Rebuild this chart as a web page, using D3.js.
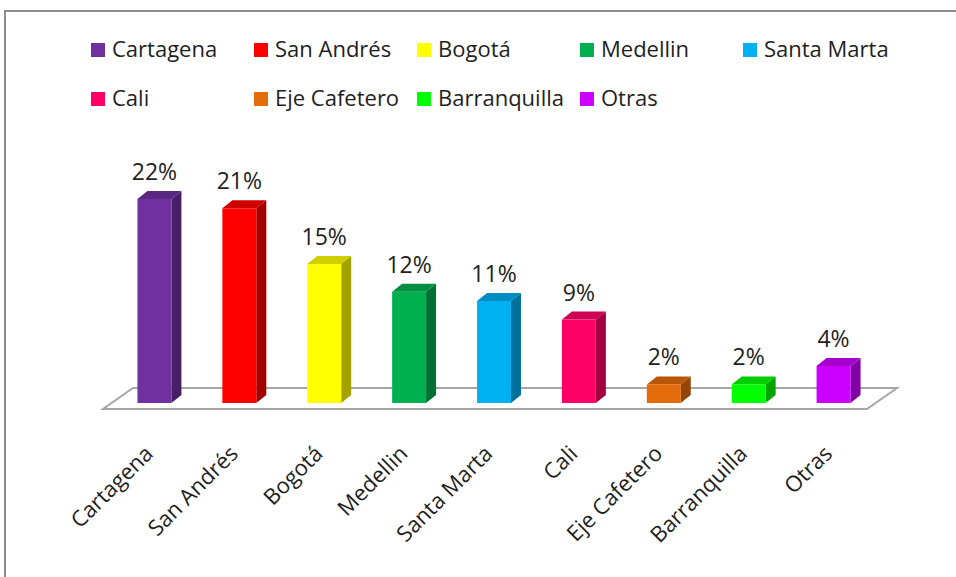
<!DOCTYPE html>
<html>
<head>
<meta charset="utf-8">
<script src="https://cdn.jsdelivr.net/npm/d3@7"></script>
<style>
  body { margin: 0; background: #fff; }
  svg { display: block; font-family: "Open Sans", sans-serif; }
</style>
</head>
<body>
<div id="chart"></div>
<script>
// data
const ciudades = ["Cartagena", "San Andrés", "Bogotá", "Medellin", "Santa Marta",
                  "Cali", "Eje Cafetero", "Barranquilla", "Otras"];
const porcentajes = [22, 21, 15, 12, 11, 9, 2, 2, 4];
const colores = ["#7030A0", "#FF0000", "#FFFF00", "#00B050", "#00B0F0",
                 "#FF0066", "#E46C0A", "#00FF00", "#CC00FF"];

const width = 956, height = 577;
const textColor = "#1e1e1e";

// 3D depth of bars and of the floor
const bx = 10, by = -8;
const fx = 30, fy = -21;
const base = 403;

const svg = d3.select("#chart").append("svg")
    .attr("width", width)
    .attr("height", height);

// chart frame
svg.append("rect")
    .attr("x", 5).attr("y", 11)
    .attr("width", 1000).attr("height", 1000)
    .attr("fill", "#fff")
    .attr("stroke", "#8c8c8c")
    .attr("stroke-width", 2);

const x = d3.scaleBand()
    .domain(ciudades)
    .range([112, 876])
    .paddingInner(0.6)
    .paddingOuter(0.3);

const y = d3.scaleLinear()
    .domain([0, 22])
    .range([base, 199]);

const color = d3.scaleOrdinal().domain(ciudades).range(colores);

// floor (parallelogram), bars stand in the middle of its depth
const [r0, r1] = x.range();
const f0 = { x: r0 - 9, y: base + 6 };
const f1 = { x: r1 - 9, y: base + 6 };
svg.append("path")
    .attr("d", `M${f0.x},${f0.y} L${f1.x},${f1.y} L${f1.x + fx},${f1.y + fy} L${f0.x + fx},${f0.y + fy} Z`)
    .attr("fill", "#fff")
    .attr("stroke", "#a6a6a6")
    .attr("stroke-width", 2);

const data = ciudades.map((c, i) => ({ ciudad: c, valor: porcentajes[i] }));

const bars = svg.append("g").selectAll("g")
    .data(data)
    .join("g");

// side face
bars.append("path")
    .attr("d", d => {
        const x1 = x(d.ciudad) + x.bandwidth();
        const y0 = y(d.valor), y1 = y(0);
        return `M${x1},${y0} L${x1 + bx},${y0 + by} L${x1 + bx},${y1 + by} L${x1},${y1} Z`;
    })
    .attr("fill", d => d3.color(color(d.ciudad)).darker(1.25));

// top face
bars.append("path")
    .attr("d", d => {
        const x0 = x(d.ciudad), x1 = x0 + x.bandwidth();
        const y0 = y(d.valor);
        return `M${x0},${y0} L${x0 + bx},${y0 + by} L${x1 + bx},${y0 + by} L${x1},${y0} Z`;
    })
    .attr("fill", d => d3.color(color(d.ciudad)).darker(0.6));

// front face
bars.append("rect")
    .attr("x", d => x(d.ciudad))
    .attr("y", d => y(d.valor))
    .attr("width", x.bandwidth())
    .attr("height", d => y(0) - y(d.valor))
    .attr("fill", d => color(d.ciudad));

// value labels
bars.append("text")
    .attr("x", d => x(d.ciudad) + x.bandwidth() / 2)
    .attr("y", d => y(d.valor) - 19)
    .attr("text-anchor", "middle")
    .attr("font-size", "23px")
    .attr("fill", textColor)
    .text(d => d.valor + "%");

// category labels, rotated
svg.append("g").selectAll("text")
    .data(ciudades)
    .join("text")
    .attr("transform", d => `translate(${x(d) + x.bandwidth() / 2},${455}) rotate(-45)`)
    .attr("text-anchor", "end")
    .attr("font-size", "22px")
    .attr("fill", textColor)
    .text(d => d);

// legend: 5 equal columns, 2 rows
const legend = svg.append("g").selectAll("g")
    .data(ciudades)
    .join("g")
    .attr("transform", (d, i) => `translate(${91 + (i % 5) * 163},${43 + Math.floor(i / 5) * 49})`);

legend.append("rect")
    .attr("width", 14).attr("height", 14)
    .attr("fill", d => color(d));

legend.append("text")
    .attr("x", 21)
    .attr("y", 14)
    .attr("font-size", "22px")
    .attr("fill", textColor)
    .text(d => d);
</script>
</body>
</html>
